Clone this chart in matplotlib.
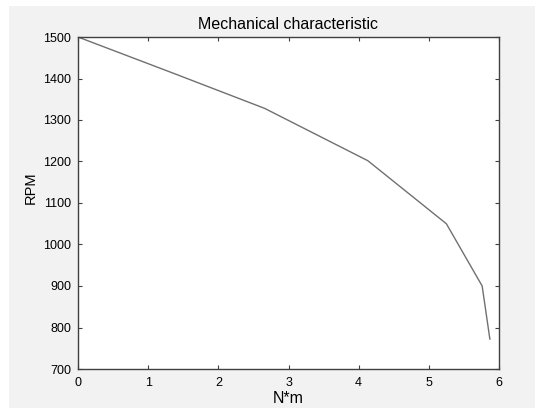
import matplotlib
matplotlib.use("Agg")
import matplotlib.pyplot as plt
from matplotlib.patches import Rectangle

# torque (N*m) vs speed (RPM)
torque = [0, 1.4, 2.66, 4.13, 5.25, 5.76, 5.87]
rpm = [1500, 1410, 1328, 1202, 1050, 900, 772]

plt.rcParams['font.family'] = ['Liberation Sans', 'DejaVu Sans']

fig = plt.figure(figsize=(5.35, 4.08), dpi=100, facecolor='white')
# grey window background with thin white margin top/left
fig.patches.append(Rectangle((9 / 535, 0), 1, (408 - 6) / 408,
                             transform=fig.transFigure, facecolor='#f2f2f2',
                             edgecolor='none', zorder=-10))

ax = fig.add_axes([78 / 535, 39 / 408, 421 / 535, 332 / 408])
ax.plot(torque, rpm, color='#707070', linewidth=1.0)

ax.set_xlim(0, 6)
ax.set_ylim(700, 1500)
ax.set_xticks(range(0, 7))
ax.set_yticks(range(700, 1501, 100))
ax.tick_params(direction='in', top=True, right=True, length=3, width=0.8,
               labelsize=9, color='#404040')
ax.tick_params(axis='x', pad=6)
ax.tick_params(axis='y', pad=5)
for s in ax.spines.values():
    s.set_color('#404040')
    s.set_linewidth(1.0)

ax.set_title('Mechanical characteristic', fontsize=11.5, pad=6)
ax.set_xlabel('N*m', fontsize=11.5, labelpad=1)
ax.set_ylabel('RPM', fontsize=10.5)
ax.yaxis.set_label_coords(-0.096, 0.545)

fig.savefig('out.png', dpi=100, facecolor=fig.get_facecolor())
